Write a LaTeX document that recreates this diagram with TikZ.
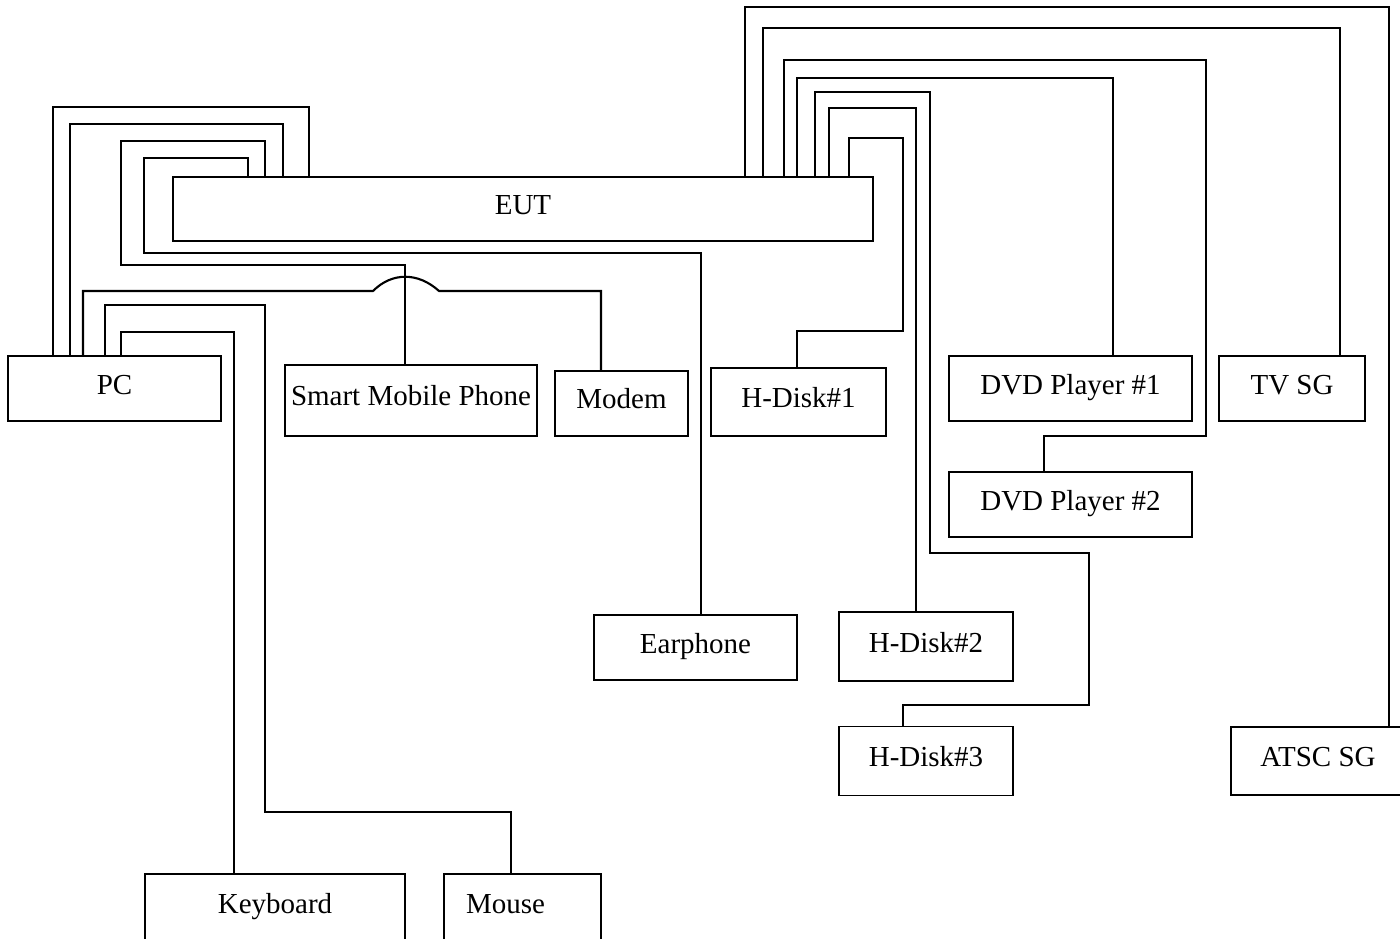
\documentclass[tikz,border=0pt]{standalone}
\usepackage{fontspec}
\setmainfont{Liberation Serif}
\begin{document}
\begin{tikzpicture}[x=0.02cm,y=-0.02cm,
    unit/.style={draw,line width=0.9pt,inner sep=0pt,text height=0.38cm,text depth=0.16cm,
        font=\fontsize{16.5}{19}\selectfont},
    wire/.style={line width=1.2pt}]
    \path[use as bounding box,clip] (0,0) rectangle (1400,939);
    % units
    \node[unit,minimum width=14cm,minimum height=1.28cm] (eut) at (523,209) {EUT};
    \node[unit,minimum width=4.26cm,minimum height=1.3cm] (pc) at (114.5,388.5) {PC};
    \node[unit,minimum width=5.04cm,minimum height=1.42cm] (phone) at (411,400.5) {Smart Mobile Phone};
    \node[unit,minimum width=2.66cm,minimum height=1.3cm] (modem) at (621.5,403.5) {Modem};
    \node[unit,minimum width=3.5cm,minimum height=1.36cm] (hda) at (798.5,402) {H-Disk\#1};
    \node[unit,minimum width=4.86cm,minimum height=1.3cm] (dvda) at (1070.5,388.5) {DVD Player \#1};
    \node[unit,minimum width=2.92cm,minimum height=1.3cm] (tv) at (1292,388.5) {TV SG};
    \node[unit,minimum width=4.86cm,minimum height=1.3cm] (dvdb) at (1070.5,504.5) {DVD Player \#2};
    \node[unit,minimum width=4.06cm,minimum height=1.3cm] (ear) at (695.5,647.5) {Earphone};
    \node[unit,minimum width=3.48cm,minimum height=1.38cm] (hdb) at (926,646.5) {H-Disk\#2};
    \node[unit,minimum width=3.48cm,minimum height=1.38cm] (hdc) at (926,761) {H-Disk\#3};
    \node[unit,minimum width=3.48cm,minimum height=1.36cm] (atsc) at (1318,761) {ATSC SG};
    \node[unit,minimum width=5.2cm,minimum height=1.36cm] (kbd) at (275,908) {Keyboard};
    \node[unit,minimum height=1.36cm,text width=2.26cm,inner xsep=0.44cm,align=left] (mouse) at (522.5,908) {Mouse};
    % cables on the left
    \draw[wire] (pc.north -| 53,0) |- (309,107) -- (eut.north -| 309,0);
    \draw[wire] (pc.north -| 70,0) |- (283,124) -- (eut.north -| 283,0);
    \draw[wire] (eut.north -| 265,0) |- (121,141) |- (405,265) -- (phone.north -| 405,0);
    \draw[wire] (eut.north -| 248,0) |- (144,158) |- (701,253) -- (ear.north -| 701,0);
    \draw[wire] (pc.north -| 83,0) |- (373,291)
        .. controls (392,272) and (418,272) .. (439,291) -| (modem.north -| 601,0);
    \draw[wire] (pc.north -| 105,0) |- (265,305) |- (511,812) -- (mouse.north -| 511,0);
    \draw[wire] (pc.north -| 121,0) |- (234,332) -- (kbd.north -| 234,0);
    % cables on the right
    \draw[wire] (eut.north -| 745,0) |- (1389,7) -- (atsc.north -| 1389,0);
    \draw[wire] (eut.north -| 763,0) |- (1340,28) -- (tv.north -| 1340,0);
    \draw[wire] (eut.north -| 784,0) |- (1206,60) |- (1044,436) -- (dvdb.north -| 1044,0);
    \draw[wire] (eut.north -| 797,0) |- (1113,78) -- (dvda.north -| 1113,0);
    \draw[wire] (eut.north -| 815,0) |- (930,92) |- (1089,553) |- (903,705) -- (hdc.north -| 903,0);
    \draw[wire] (eut.north -| 829,0) |- (916,108) -- (hdb.north -| 916,0);
    \draw[wire] (eut.north -| 849,0) |- (903,138) |- (797,331) -- (hda.north -| 797,0);
\end{tikzpicture}
\end{document}
